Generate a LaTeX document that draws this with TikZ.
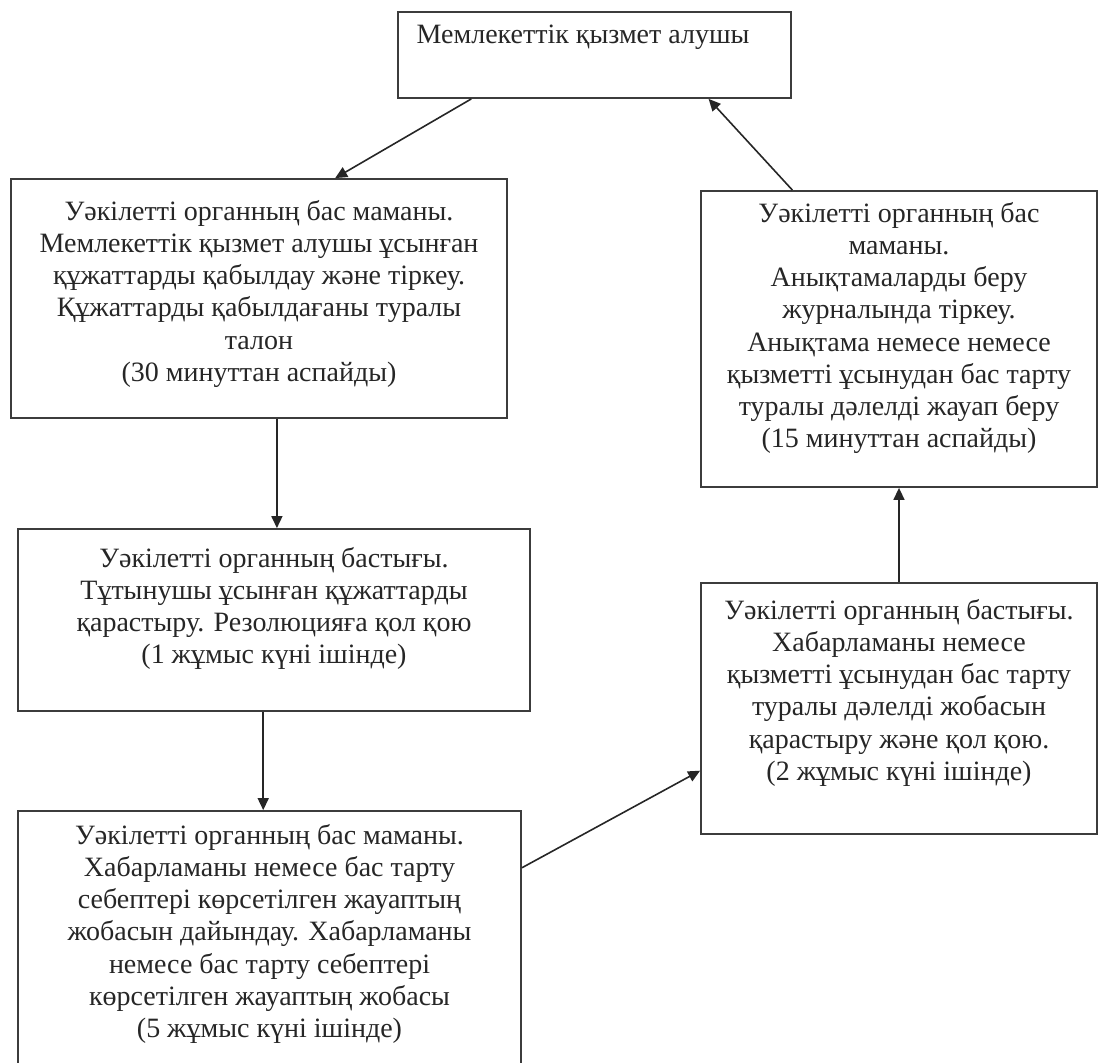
\documentclass[tikz,border=0pt]{standalone}
\usepackage{fontspec}
\setmainfont{Liberation Serif}
\usetikzlibrary{calc,positioning,arrows.meta}
\definecolor{boxline}{RGB}{60,60,60}

\begin{document}
\begin{tikzpicture}[x=1pt, y=-1pt, >={Triangle[length=12pt,width=11pt]},
  font=\fontsize{28}{32.2}\selectfont,
  stepbox/.style={draw=boxline, line width=1.8pt, inner sep=0pt},
  steptext/.style={anchor=north, align=center, inner sep=0pt, text=black!85},
  flow/.style={->, draw=black!85, line width=1.6pt}]

  % --- Frame ---
  \useasboundingbox (0,0) rectangle (1098,1063);
  \clip (0,0) rectangle (1098,1063);

  % --- Boxes ---
  \node[stepbox, minimum width=393pt, minimum height=86pt]  (recipient) at (594.5,55)   {};
  \node[stepbox, minimum width=496pt, minimum height=239pt] (intake)    at (259,298.5)  {};
  \node[stepbox, minimum width=512pt, minimum height=182pt] (review)    at (274,620)    {};
  \node[stepbox, minimum width=503pt, minimum height=269pt] (draft)     at (269.5,945.5){};
  \node[stepbox, minimum width=396pt, minimum height=296pt] (issue)     at (899,339)    {};
  \node[stepbox, minimum width=396pt, minimum height=251pt] (approve)   at (899,708.5)  {};

  % --- Texts ---
  \node[steptext] (recipienttxt) at (583,25) {Мемлекеттік қызмет алушы};
  \node[steptext] (intaketxt) at (259,200) {Уәкілетті органның бас маманы.\\
    Мемлекеттік қызмет алушы ұсынған\\ құжаттарды қабылдау және тіркеу.\\
    Құжаттарды қабылдағаны туралы\\ талон\\ (30 минуттан аспайды)};
  \node[steptext] (reviewtxt) at (274,547) {Уәкілетті органның бастығы.\\
    Тұтынушы ұсынған құжаттарды\\ қарастыру. Резолюцияға қол қою\\
    (1 жұмыс күні ішінде)};
  \node[steptext] (drafttxt) at (269.5,824) {Уәкілетті органның бас маманы.\\
    Хабарламаны немесе бас тарту\\ себептері көрсетілген жауаптың\\
    жобасын дайындау. Хабарламаны\\ немесе бас тарту себептері\\
    көрсетілген жауаптың жобасы\\ (5 жұмыс күні ішінде)};
  \node[steptext] (approvetxt) at (899,599) {Уәкілетті органның бастығы.\\
    Хабарламаны немесе\\ қызметті ұсынудан бас тарту\\ туралы дәлелді жобасын\\
    қарастыру және қол қою.\\ (2 жұмыс күні ішінде)};
  \node[steptext] (issuetxt) at (899,202) {Уәкілетті органның бас\\ маманы.\\
    Анықтамаларды беру\\ журналында тіркеу.\\ Анықтама немесе немесе\\
    қызметті ұсынудан бас тарту\\ туралы дәлелді жауап беру\\ (15 минуттан аспайды)};

  % --- Connectors ---
  \draw[flow] ($(recipient.south west)!0.188!(recipient.south east)$)
    -- ($(intake.north west)!0.653!(intake.north east)$);
  \draw[flow] ($(intake.south west)!0.536!(intake.south east)$) coordinate (s1)
    -- (s1 |- review.north);
  \draw[flow] ($(review.south west)!0.479!(review.south east)$) coordinate (s2)
    -- (s2 |- draft.north);
  \draw[flow] ($(draft.north east)!0.213!(draft.south east)$)
    -- ($(approve.north west)!0.746!(approve.south west)$);
  \draw[flow] (approve.north) -- (issue.south);
  \draw[flow] ($(issue.north west)!0.232!(issue.north east)$)
    -- ($(recipient.south west)!0.789!(recipient.south east)$);

\end{tikzpicture}
\end{document}
